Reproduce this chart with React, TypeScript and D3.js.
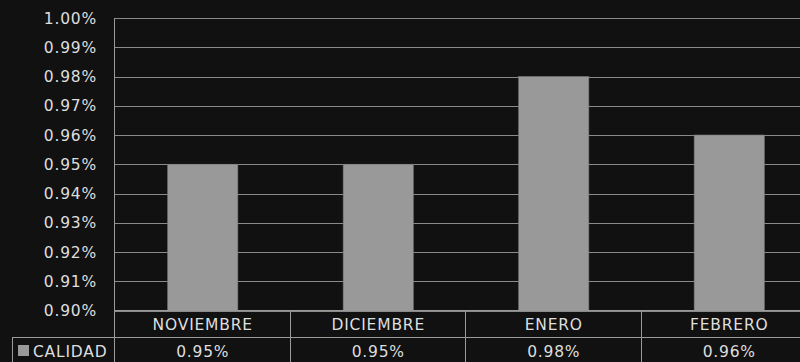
import React from "react";
import * as d3 from "d3";

const categories = ["NOVIEMBRE", "DICIEMBRE", "ENERO", "FEBRERO"];
const calidad = [0.95, 0.95, 0.98, 0.96];
const yTicks = [0.9, 0.91, 0.92, 0.93, 0.94, 0.95, 0.96, 0.97, 0.98, 0.99, 1.0];
const seriesName = "CALIDAD";

export default function App() {
  const W = 800, H = 362;
  const left = 114, top = 18, bottom = 310.5;
  const bandW = 175.5;
  const x = d3.scaleBand<string>().domain(categories).range([left, left + bandW * 4]).paddingInner(0).paddingOuter(0);
  const y = d3.scaleLinear().domain([0.9, 1.0]).range([bottom, top]);
  const barW = bandW * 0.4;
  const font = "'DejaVu Sans', sans-serif";
  const fs = 15.5;
  const ls = 0.8;
  const txt = "#dedede";
  const row1 = 310.5, row2 = 337.5, rowEnd = 380;
  const fmt = (v: number) => v.toFixed(2) + "%";
  return (
    <div style={{ position: "absolute", left: 0, top: 0, width: W, height: H, overflow: "hidden" }}>
      <svg width={W} height={H} style={{ display: "block", background: "#111111" }}>
        <rect x={0} y={0} width={W} height={H} fill="#111111" />
        {yTicks.map((t) => (
          <g key={t}>
            <line x1={left} x2={left + bandW * 4} y1={Math.round(y(t)) + 0.5} y2={Math.round(y(t)) + 0.5} stroke="#8a8a8a" strokeWidth={1} />
            <text x={97} y={y(t)} dy="0.36em" textAnchor="end" fill={txt} fontFamily={font} fontSize={fs} letterSpacing={ls}>{fmt(t)}</text>
          </g>
        ))}
        {categories.map((c, i) => {
          const cx = (x(c) as number) + bandW / 2;
          return (
            <rect key={c} x={cx - barW / 2 + 1} y={y(calidad[i])} width={barW} height={y(0.9) - y(calidad[i])} fill="#999999" stroke="#777" strokeWidth={0.6} />
          );
        })}
        <line x1={left + 0.5} x2={left + 0.5} y1={top} y2={rowEnd} stroke="#9a9a9a" />
        <line x1={left} x2={W} y1={row1} y2={row1} stroke="#9a9a9a" />
        <line x1={12} x2={W} y1={row2} y2={row2} stroke="#9a9a9a" />
        <line x1={12.5} x2={12.5} y1={row2} y2={rowEnd} stroke="#9a9a9a" />
        {categories.map((c, i) => {
          const x0 = x(c) as number;
          const cx = x0 + bandW / 2 + 1;
          return (
            <g key={c}>
              <line x1={Math.round(x0 + bandW) + 0.5} x2={Math.round(x0 + bandW) + 0.5} y1={row1} y2={rowEnd} stroke="#9a9a9a" />
              <text x={cx} y={(row1 + row2) / 2} dy="0.36em" textAnchor="middle" fill={txt} fontFamily={font} fontSize={fs} letterSpacing={ls}>{c}</text>
              <text x={cx} y={351} dy="0.36em" textAnchor="middle" fill={txt} fontFamily={font} fontSize={fs} letterSpacing={ls}>{fmt(calidad[i])}</text>
            </g>
          );
        })}
        <rect x={18} y={345} width={11} height={11} fill="#999999" />
        <text x={33} y={351} dy="0.36em" fill={txt} fontFamily={font} fontSize={fs} letterSpacing={ls}>{seriesName}</text>
      </svg>
    </div>
  );
}
